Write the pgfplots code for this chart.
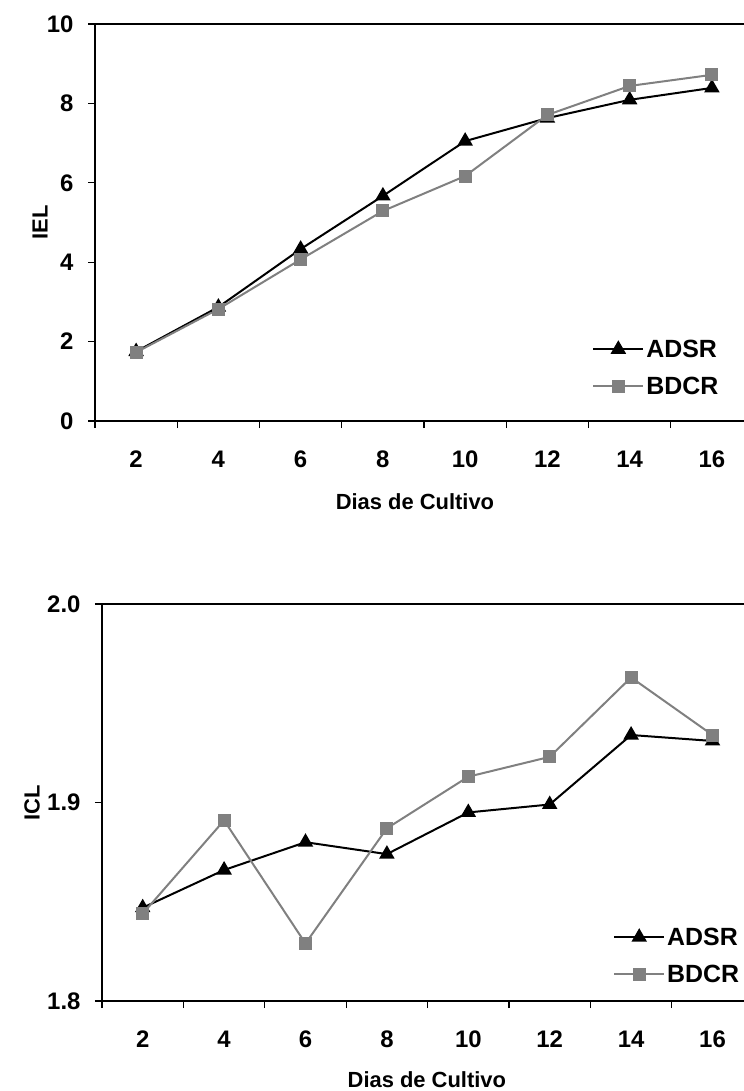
\documentclass[border=0pt]{standalone}
\usepackage{fontspec}
\setmainfont{Liberation Sans}
\usepackage{pgfplots}
\pgfplotsset{compat=1.18}

\definecolor{serieB}{RGB}{128,128,128}

\pgfplotsset{
  excelchart/.style={
    scale only axis,
    height=397bp,
    axis x line*=bottom, axis y line*=left,
    axis line style={line width=1.3bp},
    every tick/.style={line width=1.3bp, black},
    xmin=0.5,
    xtick={1,...,8},
    xticklabels={2,4,6,8,10,12,14,16},
    minor xtick={0.5,1.5,...,7.5},
    major x tick style={draw=none},
    tick align=outside,
    major tick length=7bp, minor tick length=7bp,
    /pgf/number format/assume math mode=true,
    ticklabel style={font=\bfseries\fontsize{24}{24}\selectfont},
    xticklabel style={anchor=base, yshift=-39bp},
    yticklabel style={xshift=-11bp},
    label style={font=\bfseries\fontsize{22}{22}\selectfont},
    xlabel={Dias de Cultivo},
    clip=false,
    legend style={draw=none, fill=none, font=\bfseries\fontsize{25}{25}\selectfont,
      row sep=14bp, inner sep=0pt},
    legend cell align=left,
    legend image code/.code={
      \draw[mark repeat=2, mark phase=2, ##1] plot coordinates {(0bp,0bp) (25bp,0bp) (50bp,0bp)};
    },
  },
  serA/.style={black, line width=2bp, mark=triangle*, mark size=7bp, mark options={solid, black}},
  serB/.style={serieB, line width=2bp, mark=square*, mark size=5.5bp, mark options={solid, serieB}},
}

\begin{document}
\begin{tikzpicture}
\useasboundingbox (0,0) rectangle (744bp,-1091bp);

% IEL
\begin{axis}[excelchart,
  at={(95bp,-421bp)}, anchor=south west,
  width=649bp,
  xmax=8.39,
  ymin=0, ymax=10, ytick={0,2,...,10},
  ylabel={IEL},
  ylabel style={at={(rel axis cs:-0.0847,0.501)}, anchor=center},
  xlabel style={at={(rel axis cs:0.493,-0.204)}, anchor=center},
  legend style={at={(rel axis cs:0.766,0.21)}, anchor=north west},
  ]
  \addplot[serA] coordinates {(1,1.75) (2,2.87) (3,4.33) (4,5.67) (5,7.05) (6,7.63) (7,8.09) (8,8.39)};
  \addlegendentry{ADSR}
  \addplot[serB] coordinates {(1,1.73) (2,2.82) (3,4.07) (4,5.29) (5,6.17) (6,7.71) (7,8.44) (8,8.72)};
  \addlegendentry{BDCR}
  \draw[line width=1.3bp] (rel axis cs:0,1) -- (rel axis cs:1,1);
\end{axis}

% ICL
\begin{axis}[excelchart,
  at={(102bp,-1001bp)}, anchor=south west,
  width=642bp,
  xmax=8.387,
  ymin=1.8, ymax=2.0, ytick={1.8,1.9,2.0},
  yticklabel style={/pgf/number format/.cd, fixed, fixed zerofill, precision=1},
  ylabel={ICL},
  ylabel style={at={(rel axis cs:-0.109,0.499)}, anchor=center},
  xlabel style={at={(rel axis cs:0.506,-0.199)}, anchor=center},
  legend style={at={(rel axis cs:0.796,0.19)}, anchor=north west},
  ]
  \addplot[serA] coordinates {(1,1.847) (2,1.866) (3,1.880) (4,1.874) (5,1.895) (6,1.899) (7,1.934) (8,1.931)};
  \addlegendentry{ADSR}
  \addplot[serB] coordinates {(1,1.844) (2,1.891) (3,1.829) (4,1.887) (5,1.913) (6,1.923) (7,1.963) (8,1.934)};
  \addlegendentry{BDCR}
  \draw[line width=1.3bp] (rel axis cs:0,1) -- (rel axis cs:1,1);
\end{axis}
\end{tikzpicture}
\end{document}
